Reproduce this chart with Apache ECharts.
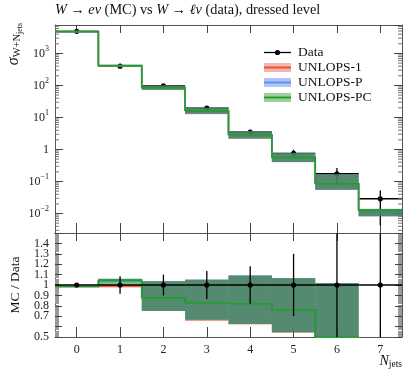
<!DOCTYPE html>
<html>
<head>
<meta charset="utf-8">
<script src="https://cdn.jsdelivr.net/npm/echarts@6/dist/echarts.min.js"></script>
<style>
  html, body { margin: 0; padding: 0; background: #fff; }
  #chart { width: 415px; height: 372px; }
</style>
</head>
<body>
<div id="chart"></div>
<script>
const binLabels = ['0', '1', '2', '3', '4', '5', '6', '7']

// data points and relative errors
const dataValues = [4900, 400, 98, 19.5, 3.5, 0.76, 0.175, 0.029]
const dataErrUp = [0.01, 0.085, 0.1, 0.135, 0.18, 0.3, 0.5, 0.82]
const dataErrDown = [0.01, 0.085, 0.1, 0.135, 0.18, 0.3, 0.58, 0.85]

// MC predictions, main panel
const mc1 = [4800, 398, 85, 15.8, 2.9, 0.56, 0.085, 0.0126]
const mc1Low = [4700, 390, 73, 12.7, 2.15, 0.4, 0.055, 0.0082]
const mc1High = [4900, 405, 99, 20.0, 3.7, 0.78, 0.168, 0.0138]
const mcP = [4800, 415, 85, 15.8, 2.9, 0.56, 0.085, 0.0126]
const mcPLow = [4700, 408, 73, 13.0, 2.2, 0.41, 0.055, 0.0082]
const mcPHigh = [4900, 425, 100, 20.3, 3.8, 0.79, 0.17, 0.014]
const mcPC = [4800, 415, 85, 15.8, 2.9, 0.56, 0.085, 0.0126]
const mcPCLow = [4700, 400, 73, 13.0, 2.2, 0.41, 0.055, 0.0082]
const mcPCHigh = [4900, 423, 99, 20.0, 3.75, 0.78, 0.168, 0.0138]

// MC / Data, ratio panel
const ratio1 = [0.985, 0.99, 0.876, 0.83, 0.82, 0.76, 0.5, null]
const ratio1Low = [0.98, 0.975, 0.75, 0.655, 0.62, 0.54, 0.4, null]
const ratio1High = [0.99, 1.0, 1.037, 1.05, 1.09, 1.065, 1.02, null]
const ratioP = [0.985, 1.046, 0.876, 0.83, 0.82, 0.76, 0.5, null]
const ratioPLow = [0.98, 1.03, 0.75, 0.665, 0.625, 0.545, 0.4, null]
const ratioPHigh = [0.99, 1.063, 1.037, 1.053, 1.094, 1.068, 1.02, null]
const ratioPC = [0.985, 1.046, 0.876, 0.83, 0.82, 0.76, 0.5, null]
const ratioPCLow = [0.98, 1.0, 0.75, 0.665, 0.625, 0.545, 0.4, null]
const ratioPCHigh = [0.99, 1.058, 1.035, 1.05, 1.092, 1.065, 1.018, null]

const minorMantissas = [2, 3, 4, 5, 6, 7, 8, 9]
const minorDecades = [-3, -2, -1, 0, 1, 2, 3]

const FONT = '"Liberation Serif", "DejaVu Serif", serif'
const AXIS_COLOR = '#555'

const mainMin = 0.00247
const mainMax = 7730

const clamp = (v, lo, hi) => Math.min(Math.max(v, lo), hi)

const stepItems = (central, low, high) =>
  central
    .map((v, i) => (v == null ? null : [i, v, low[i], high[i], central[i + 1] ?? v]))
    .filter(Boolean)

const stepRenderer = (lineColor, bandFill) => (params, api) => {
  const cs = params.coordSys
  const i = api.value(0)
  const w = api.size([1, 1])[0]
  const c = api.coord([i, api.value(1)])
  const x0 = c[0] - w / 2
  const yc = clamp(c[1], cs.y, cs.y + cs.height)
  const yLo = api.coord([i, api.value(2)])[1]
  const yHi = api.coord([i, api.value(3)])[1]
  const yNext = clamp(api.coord([i + 1, api.value(4)])[1], cs.y, cs.y + cs.height)
  const children = []
  const band = echarts.graphic.clipRectByRect({ x: x0, y: yHi, width: w, height: yLo - yHi }, cs)
  if (band) children.push({ type: 'rect', shape: band, style: { fill: bandFill } })
  children.push({
    type: 'polyline',
    shape: { points: [[x0, yc], [x0 + w, yc], [x0 + w, yNext]] },
    style: { stroke: lineColor, lineWidth: 1.6, fill: null }
  })
  return { type: 'group', children }
}

const dataRenderer = (params, api) => {
  const cs = params.coordSys
  const i = api.value(0)
  const w = api.size([1, 1])[0]
  const c = api.coord([i, api.value(1)])
  const yDn = clamp(api.coord([i, api.value(2)])[1], cs.y, cs.y + cs.height)
  const yUp = clamp(api.coord([i, api.value(3)])[1], cs.y, cs.y + cs.height)
  const line = { stroke: '#000', lineWidth: 1.3 }
  return {
    type: 'group',
    children: [
      { type: 'line', shape: { x1: c[0] - w / 2, y1: c[1], x2: c[0] + w / 2, y2: c[1] }, style: line },
      { type: 'line', shape: { x1: c[0], y1: yUp, x2: c[0], y2: yDn }, style: line },
      { type: 'circle', shape: { cx: c[0], cy: c[1], r: 2.6 }, style: { fill: '#000' } }
    ]
  }
}

const minorTickRenderer = (params, api) => {
  const cs = params.coordSys
  const y = api.coord([0, api.value(1)])[1]
  const style = { stroke: '#777', lineWidth: 1 }
  return {
    type: 'group',
    children: [
      { type: 'line', shape: { x1: cs.x, y1: y, x2: cs.x + 4, y2: y }, style },
      { type: 'line', shape: { x1: cs.x + cs.width - 4, y1: y, x2: cs.x + cs.width, y2: y }, style }
    ]
  }
}

const minorTickValues = minorDecades
  .flatMap(d => minorMantissas.map(m => m * Math.pow(10, d)))
  .filter(v => v > mainMin && v < mainMax)

const mainData = dataValues.map((v, i) => [i, v, v * (1 - dataErrDown[i]), v * (1 + dataErrUp[i])])
const ratioData = dataValues.map((v, i) => [i, 1, 1 - dataErrDown[i], 1 + dataErrUp[i]])

const band1 = 'rgba(232, 70, 55, 0.55)'
const bandP = 'rgba(70, 120, 230, 0.55)'
const bandPC = 'rgba(40, 140, 60, 0.6)'
const line1 = '#e8503a'
const lineP = '#5b8ff0'
const linePC = '#22a022'

const xAxisBase = (gridIndex, position, tickLen) => ({
  type: 'category',
  gridIndex,
  position,
  data: binLabels,
  boundaryGap: true,
  axisLine: { show: true, lineStyle: { color: AXIS_COLOR, width: 1 } },
  axisTick: { show: true, alignWithLabel: true, inside: true, length: tickLen, lineStyle: { color: '#444', width: 1 } },
  axisLabel: { show: false },
  splitLine: { show: false }
})

const logLabel = v => {
  const e = Math.round(Math.log10(v))
  if (e === 0) return '{m|1}'
  return `{m|10}{e|${e < 0 ? '\u2212' + -e : e}}`
}

const mainYAxis = (position, showLabels) => ({
  type: 'log',
  logBase: 10,
  gridIndex: 0,
  position,
  min: mainMin,
  max: mainMax,
  splitNumber: 6,
  axisLine: { show: true, lineStyle: { color: AXIS_COLOR, width: 1 } },
  axisTick: { show: true, inside: true, length: 8, lineStyle: { color: '#444' } },
  axisLabel: {
    show: showLabels,
    showMinLabel: false,
    showMaxLabel: false,
    margin: 6,
    formatter: logLabel,
    rich: {
      m: { fontFamily: FONT, fontSize: 12, color: '#222' },
      e: { fontFamily: FONT, fontSize: 8, color: '#222', padding: [0, 0, 9, 0] }
    }
  },
  splitLine: { show: false }
})

const ratioYAxis = (position, showLabels) => ({
  type: 'value',
  gridIndex: 1,
  position,
  min: 0.5,
  max: 1.5,
  interval: 0.1,
  axisLine: { show: true, lineStyle: { color: AXIS_COLOR, width: 1 } },
  axisTick: { show: true, inside: true, length: 7, lineStyle: { color: '#444' } },
  minorTick: { show: true, splitNumber: 10, length: 4, lineStyle: { color: '#999' } },
  axisLabel: {
    show: showLabels,
    showMinLabel: true,
    showMaxLabel: false,
    hideOverlap: false,
    margin: 6,
    fontFamily: FONT,
    fontSize: 12,
    color: '#222',
    formatter: v => String(+v.toFixed(1))
  },
  splitLine: { show: false }
})

const legendRows = [
  { name: 'UNLOPS-1', line: line1, band: 'rgba(238, 120, 105, 0.55)', y: 67.5 },
  { name: 'UNLOPS-P', line: lineP, band: 'rgba(110, 150, 240, 0.55)', y: 82.5 },
  { name: 'UNLOPS-PC', line: linePC, band: 'rgba(80, 170, 80, 0.55)', y: 97.5 }
]

const legendGraphics = [
  { type: 'line', shape: { x1: 264, y1: 52.5, x2: 291, y2: 52.5 }, style: { stroke: '#000', lineWidth: 1.3 } },
  { type: 'circle', shape: { cx: 277.5, cy: 52.5, r: 2.6 }, style: { fill: '#000' } },
  { type: 'text', x: 298, y: 52.5, style: { text: 'Data', font: `13.5px ${FONT}`, fill: '#111', verticalAlign: 'middle' } },
  ...legendRows.flatMap(r => [
    { type: 'rect', shape: { x: 264, y: r.y - 4.5, width: 27, height: 9 }, style: { fill: r.band } },
    { type: 'line', shape: { x1: 264, y1: r.y, x2: 291, y2: r.y }, style: { stroke: r.line, lineWidth: 2 } },
    { type: 'text', x: 298, y: r.y, style: { text: r.name, font: `13.5px ${FONT}`, fill: '#111', verticalAlign: 'middle' } }
  ])
]

const chart = echarts.init(document.getElementById('chart'), null, { renderer: 'canvas' })

chart.setOption({
  animation: false,
  backgroundColor: '#fff',
  grid: [
    { left: 55, right: 13, top: 25, height: 208 },
    { left: 55, right: 13, top: 233, height: 104 }
  ],
  xAxis: [
    xAxisBase(0, 'bottom', 10),
    xAxisBase(0, 'top', 8),
    {
      ...xAxisBase(1, 'bottom', 10),
      axisLabel: { show: true, margin: 7, fontFamily: FONT, fontSize: 12, color: '#222' }
    },
    xAxisBase(1, 'top', 8)
  ],
  yAxis: [
    mainYAxis('left', true),
    mainYAxis('right', false),
    ratioYAxis('left', true),
    ratioYAxis('right', false)
  ],
  graphic: [
    {
      type: 'text',
      left: 55,
      top: 3,
      style: {
        text: '{i|W} \u2192 {i|e\u03bd} (MC) vs {i|W} \u2192 {i|\u2113\u03bd} (data), dressed level',
        font: `14.3px ${FONT}`,
        fill: '#111',
        rich: { i: { fontStyle: 'italic', fontFamily: FONT, fontSize: 14.3 } }
      }
    },
    {
      type: 'text',
      x: 14,
      y: 44,
      rotation: Math.PI / 2,
      style: {
        text: '{s|\u03c3}{w|W+N}{j|jets}',
        align: 'center',
        verticalAlign: 'middle',
        rich: {
          s: { fontFamily: FONT, fontStyle: 'italic', fontSize: 16, fill: '#111' },
          w: { fontFamily: FONT, fontSize: 10.5, fill: '#111', padding: [7, 0, 0, 0] },
          j: { fontFamily: FONT, fontSize: 8, fill: '#111', padding: [12, 0, 0, 0] }
        }
      }
    },
    {
      type: 'text',
      x: 15,
      y: 285,
      rotation: Math.PI / 2,
      style: { text: 'MC / Data', font: `13.5px ${FONT}`, fill: '#111', align: 'center', verticalAlign: 'middle' }
    },
    {
      type: 'text',
      right: 13,
      top: 354,
      style: {
        text: '{n|N}{j|jets}',
        rich: {
          n: { fontFamily: FONT, fontStyle: 'italic', fontSize: 14, fill: '#111' },
          j: { fontFamily: FONT, fontSize: 9.5, fill: '#111', padding: [7, 0, 0, 0] }
        }
      }
    },
    ...legendGraphics
  ],
  series: [
    // main panel: data first, MC drawn over it
    { type: 'custom', name: 'Data', xAxisIndex: 0, yAxisIndex: 0, renderItem: dataRenderer, data: mainData, z: 2 },
    { type: 'custom', name: 'UNLOPS-1', xAxisIndex: 0, yAxisIndex: 0, renderItem: stepRenderer(line1, band1), data: stepItems(mc1, mc1Low, mc1High), z: 3 },
    { type: 'custom', name: 'UNLOPS-P', xAxisIndex: 0, yAxisIndex: 0, renderItem: stepRenderer(lineP, bandP), data: stepItems(mcP, mcPLow, mcPHigh), z: 4 },
    { type: 'custom', name: 'UNLOPS-PC', xAxisIndex: 0, yAxisIndex: 0, renderItem: stepRenderer(linePC, bandPC), data: stepItems(mcPC, mcPCLow, mcPCHigh), z: 5 },
    { type: 'custom', name: 'minor', xAxisIndex: 0, yAxisIndex: 0, renderItem: minorTickRenderer, data: minorTickValues.map(v => [0, v]), z: 6 },
    // ratio panel: MC first, data on top
    { type: 'custom', name: 'UNLOPS-1 ratio', xAxisIndex: 2, yAxisIndex: 2, renderItem: stepRenderer(line1, band1), data: stepItems(ratio1, ratio1Low, ratio1High), z: 3 },
    { type: 'custom', name: 'UNLOPS-P ratio', xAxisIndex: 2, yAxisIndex: 2, renderItem: stepRenderer(lineP, bandP), data: stepItems(ratioP, ratioPLow, ratioPHigh), z: 4 },
    { type: 'custom', name: 'UNLOPS-PC ratio', xAxisIndex: 2, yAxisIndex: 2, renderItem: stepRenderer(linePC, bandPC), data: stepItems(ratioPC, ratioPCLow, ratioPCHigh), z: 5 },
    { type: 'custom', name: 'Data ratio', xAxisIndex: 2, yAxisIndex: 2, renderItem: dataRenderer, data: ratioData, z: 6 }
  ]
})
</script>
</body>
</html>
